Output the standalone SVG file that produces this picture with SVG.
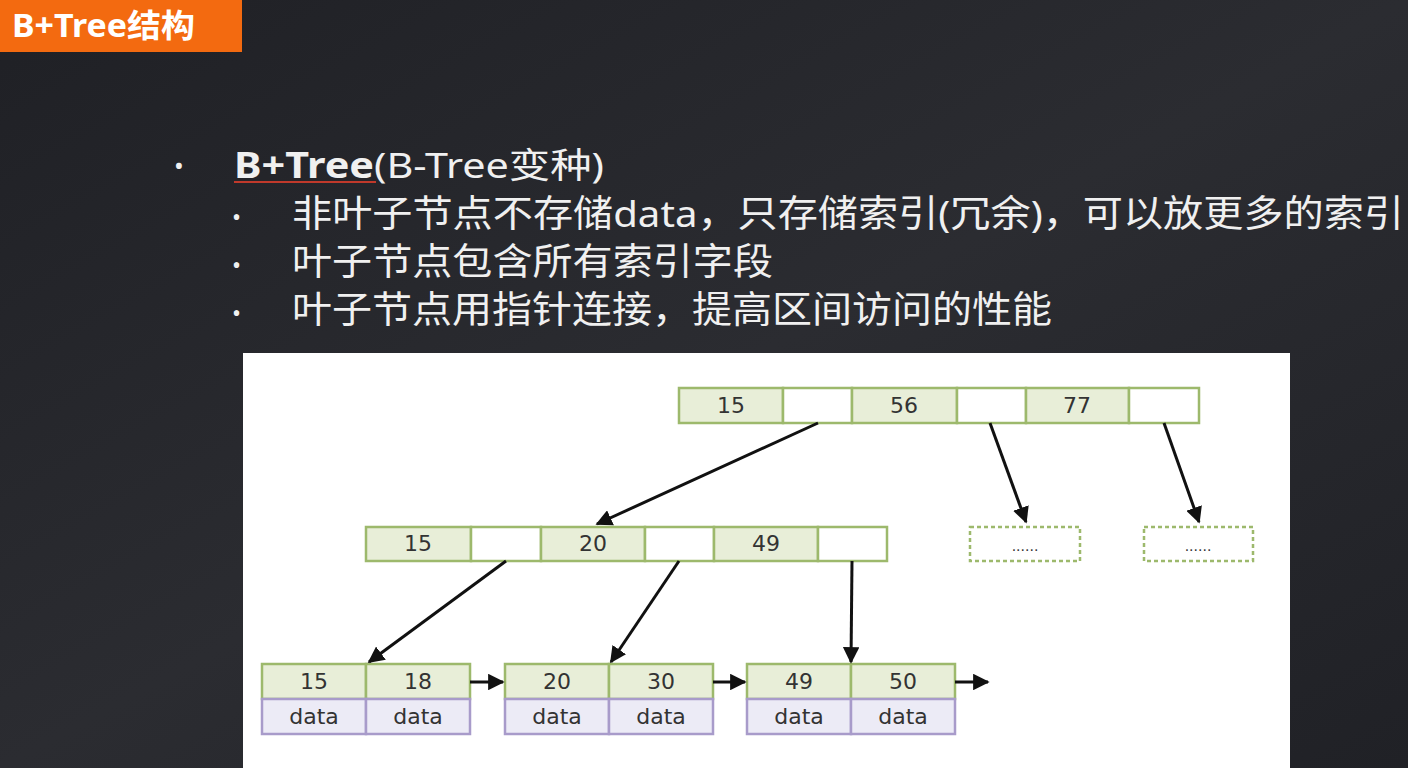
<svg xmlns="http://www.w3.org/2000/svg" width="1408" height="768" viewBox="0 0 1408 768">
<defs>
<linearGradient id="bg" x1="0" y1="0" x2="1" y2="1"><stop offset="0" stop-color="#1f2025"/><stop offset="0.5" stop-color="#2b2c31"/><stop offset="1" stop-color="#202126"/></linearGradient>
<marker id="ah" viewBox="0 0 10 10" refX="9" refY="5" markerWidth="5.5" markerHeight="5.5" orient="auto"><path d="M0,0 L10,5 L0,10 z" fill="#111"/></marker>
<style>
.t{font-family:"Noto Sans","Noto Sans CJK SC",sans-serif;fill:#f0f0f0}
.g{fill:#e8eed8;stroke:#9db96c;stroke-width:2.5}
.w{fill:#fff;stroke:#9db96c;stroke-width:2.5}
.p{fill:#ecebf6;stroke:#a89bca;stroke-width:2.5}
.d{fill:#fff;stroke:#9db96c;stroke-width:2.5;stroke-dasharray:4 3}
.n{font-family:"DejaVu Sans",sans-serif;font-size:22px;fill:#333;text-anchor:middle}
.c line{stroke:#111;stroke-width:3;marker-end:url(#ah)}
</style>
</defs>
<rect width="1408" height="768" fill="url(#bg)"/>
<rect x="0" y="0" width="242" height="52" fill="#f36a10"/>
<text x="12" y="37" class="t" style="font-size:32px;font-weight:bold;fill:#fff" textLength="183" lengthAdjust="spacingAndGlyphs">B+Tree结构</text>
<text x="174" y="175" class="t" style="font-size:26px">•</text>
<text x="234" y="178" class="t" style="font-size:35px" textLength="370" lengthAdjust="spacingAndGlyphs"><tspan font-weight="bold">B+Tree</tspan>(B-Tree变种)</text>
<line x1="234" y1="182" x2="376" y2="182" stroke="#c0392b" stroke-width="2"/>
<g class="t" style="font-size:37px">
<text x="232" y="226" style="font-size:24px">•</text><text x="292" y="227" textLength="1112" lengthAdjust="spacingAndGlyphs">非叶子节点不存储data，只存储索引(冗余)，可以放更多的索引</text>
<text x="232" y="274" style="font-size:24px">•</text><text x="292" y="275" textLength="481" lengthAdjust="spacingAndGlyphs">叶子节点包含所有索引字段</text>
<text x="232" y="322" style="font-size:24px">•</text><text x="292" y="323" textLength="760" lengthAdjust="spacingAndGlyphs">叶子节点用指针连接，提高区间访问的性能</text>
</g>
<rect x="243" y="353" width="1047" height="415" fill="#fff"/>
<g id="root">
<rect class="g" x="679" y="388" width="104" height="35"/><rect class="w" x="783" y="388" width="69" height="35"/>
<rect class="g" x="852" y="388" width="105" height="35"/><rect class="w" x="957" y="388" width="69" height="35"/>
<rect class="g" x="1026" y="388" width="103" height="35"/><rect class="w" x="1129" y="388" width="70" height="35"/>
<text class="n" x="731" y="413">15</text><text class="n" x="904" y="413">56</text><text class="n" x="1077" y="413">77</text>
</g>
<g id="mid">
<rect class="g" x="366" y="527" width="105" height="34"/><rect class="w" x="471" y="527" width="70" height="34"/>
<rect class="g" x="541" y="527" width="104" height="34"/><rect class="w" x="645" y="527" width="69" height="34"/>
<rect class="g" x="714" y="527" width="104" height="34"/><rect class="w" x="818" y="527" width="69" height="34"/>
<text class="n" x="418" y="551">15</text><text class="n" x="593" y="551">20</text><text class="n" x="766" y="551">49</text>
</g>
<g id="more1"><rect class="d" x="970" y="527" width="110" height="34"/><text class="n" x="1025" y="551" style="font-size:14px">......</text></g>
<g id="more2"><rect class="d" x="1144" y="527" width="109" height="34"/><text class="n" x="1198" y="551" style="font-size:14px">......</text></g>
<g id="leaf1">
<rect class="g" x="262" y="664" width="104" height="35"/><rect class="g" x="366" y="664" width="104" height="35"/>
<rect class="p" x="262" y="699" width="104" height="35"/><rect class="p" x="366" y="699" width="104" height="35"/>
<text class="n" x="314" y="689">15</text><text class="n" x="418" y="689">18</text><text class="n" x="314" y="724">data</text><text class="n" x="418" y="724">data</text>
</g>
<g id="leaf2">
<rect class="g" x="505" y="664" width="104" height="35"/><rect class="g" x="609" y="664" width="104" height="35"/>
<rect class="p" x="505" y="699" width="104" height="35"/><rect class="p" x="609" y="699" width="104" height="35"/>
<text class="n" x="557" y="689">20</text><text class="n" x="661" y="689">30</text><text class="n" x="557" y="724">data</text><text class="n" x="661" y="724">data</text>
</g>
<g id="leaf3">
<rect class="g" x="747" y="664" width="104" height="35"/><rect class="g" x="851" y="664" width="104" height="35"/>
<rect class="p" x="747" y="699" width="104" height="35"/><rect class="p" x="851" y="699" width="104" height="35"/>
<text class="n" x="799" y="689">49</text><text class="n" x="903" y="689">50</text><text class="n" x="799" y="724">data</text><text class="n" x="903" y="724">data</text>
</g>
<g class="c" id="connectors">
<line x1="818" y1="423" x2="597" y2="524"/>
<line x1="990" y1="423" x2="1026" y2="522"/>
<line x1="1164" y1="423" x2="1199" y2="522"/>
<line x1="506" y1="561" x2="369" y2="662"/>
<line x1="679" y1="561" x2="611" y2="662"/>
<line x1="852" y1="561" x2="851" y2="662"/>
<line x1="470" y1="682" x2="503" y2="682"/>
<line x1="713" y1="682" x2="745" y2="682"/>
<line x1="955" y1="682" x2="988" y2="682"/>
</g>
</svg>
